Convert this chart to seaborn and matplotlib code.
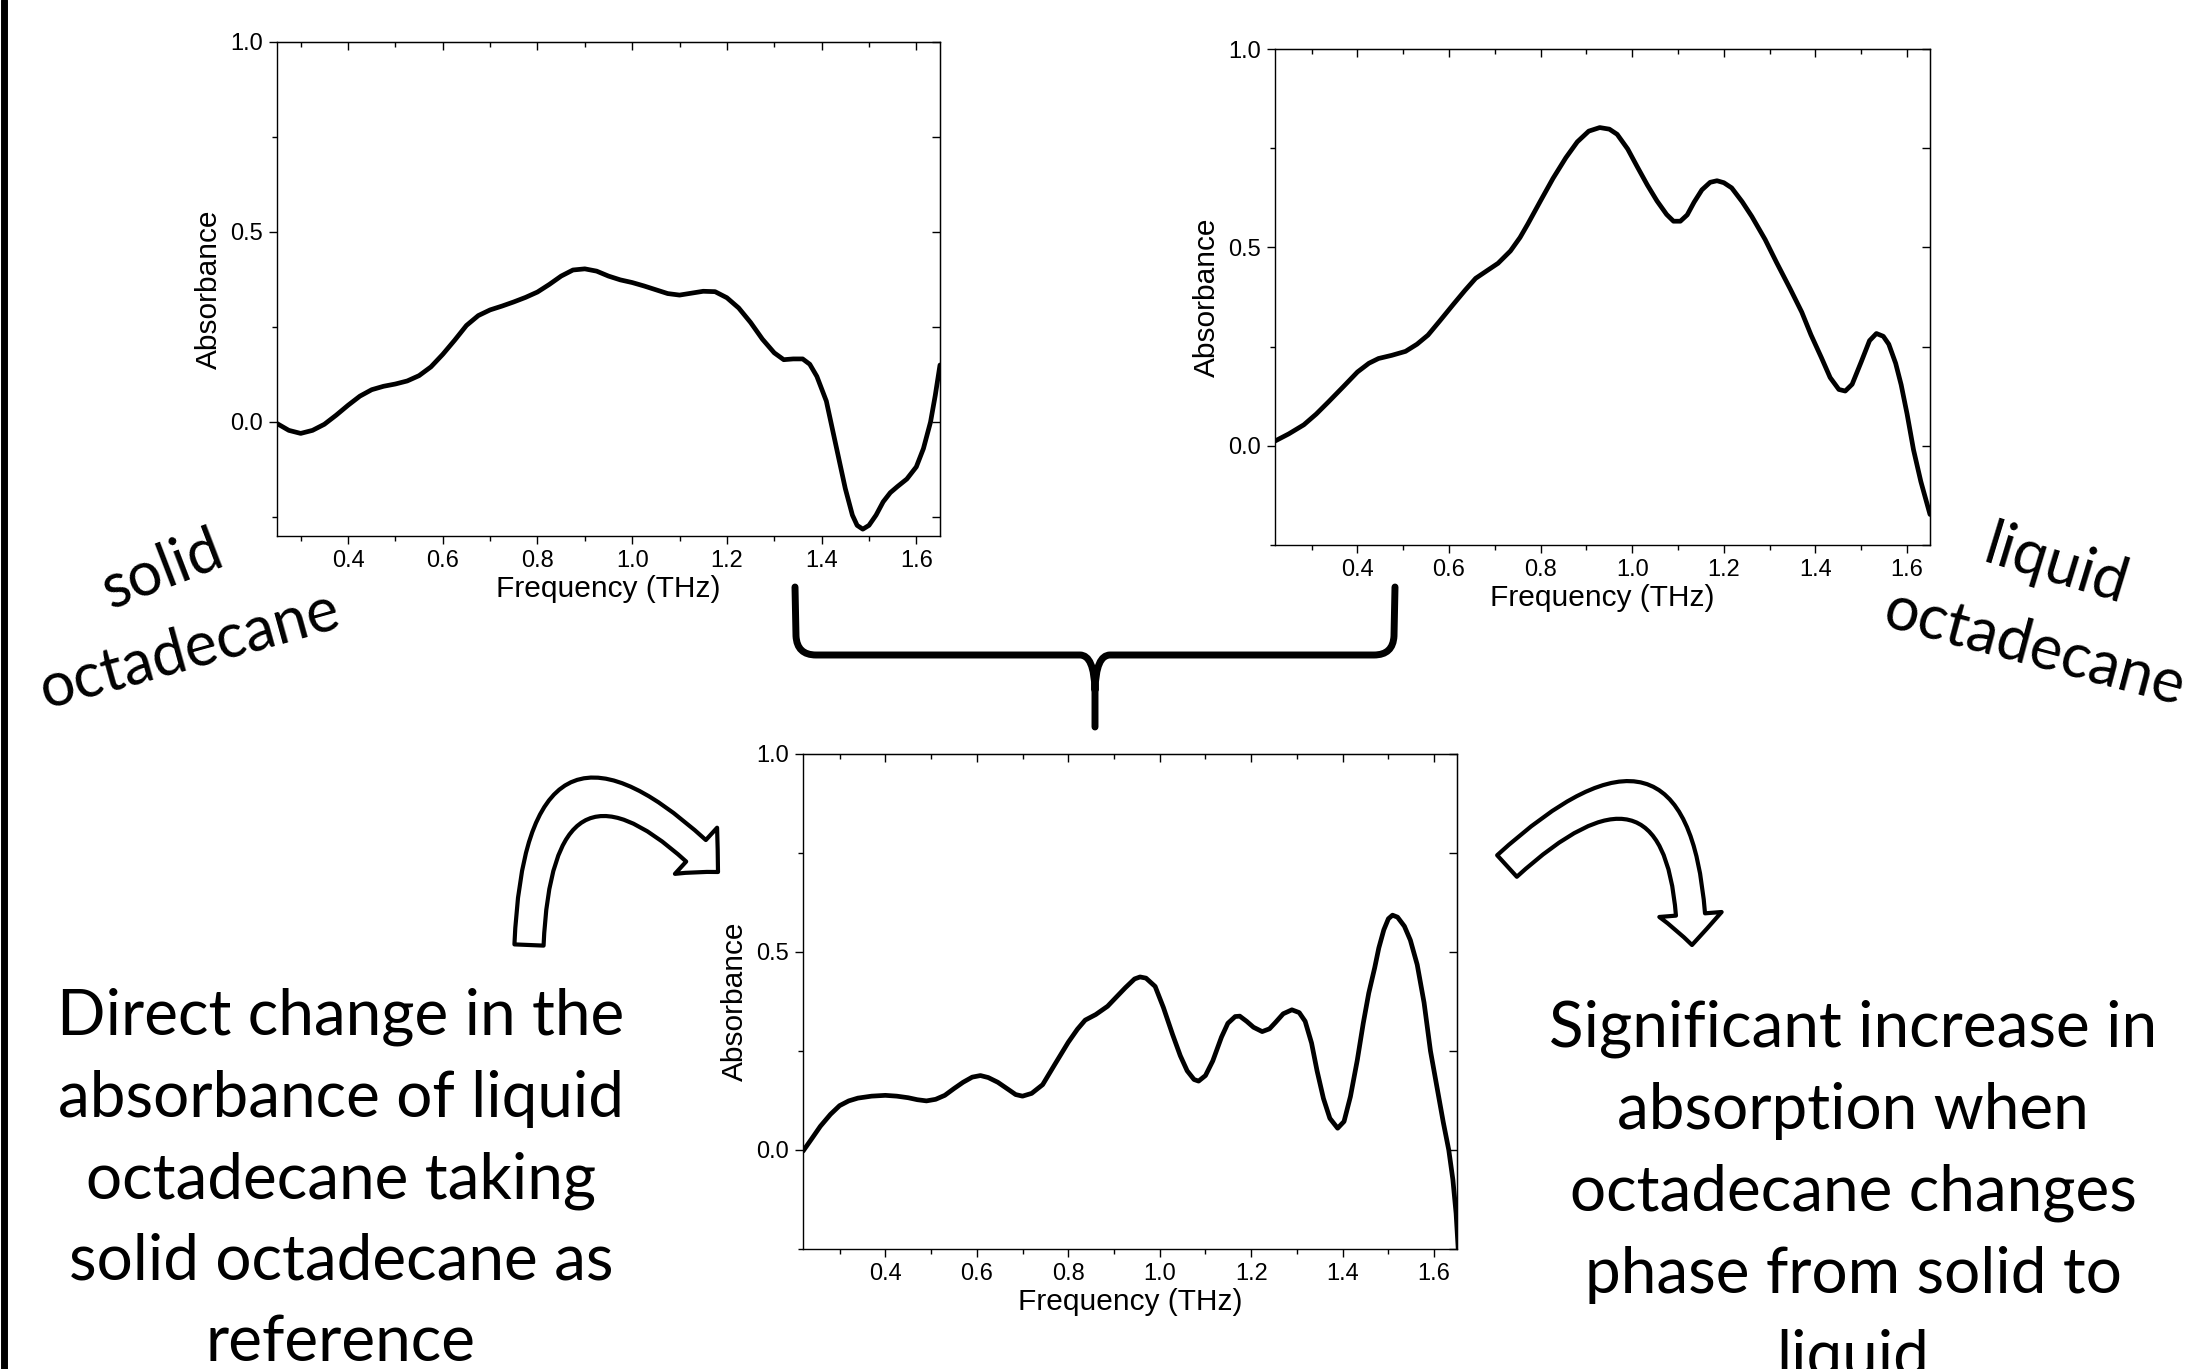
import matplotlib
matplotlib.use("Agg")
import matplotlib.pyplot as plt
from matplotlib.patches import FancyArrowPatch, PathPatch
from matplotlib.path import Path
from matplotlib.lines import Line2D
from matplotlib.ticker import MultipleLocator
import pandas as pd
import seaborn as sns

W, H = 2201, 1369

# solid octadecane absorbance (top left)
solid_freq = [0.25, 0.275, 0.30, 0.325, 0.35, 0.375, 0.40, 0.425, 0.45, 0.475,
              0.50, 0.525, 0.55, 0.575, 0.60, 0.625, 0.65, 0.675, 0.70, 0.725,
              0.75, 0.775, 0.80, 0.825, 0.85, 0.875, 0.90, 0.925, 0.95, 0.975,
              1.00, 1.025, 1.05, 1.075, 1.10, 1.125, 1.15, 1.175, 1.20, 1.225,
              1.25, 1.275, 1.30, 1.32, 1.34, 1.36, 1.375, 1.39, 1.41, 1.43,
              1.45, 1.465, 1.475, 1.487, 1.50, 1.515, 1.53, 1.545, 1.56, 1.58,
              1.60, 1.615, 1.63, 1.64, 1.65]
solid_abs = [-0.004, -0.022, -0.030, -0.022, -0.006, 0.018, 0.044, 0.068, 0.085, 0.094,
             0.100, 0.108, 0.122, 0.145, 0.178, 0.215, 0.254, 0.280, 0.295, 0.305,
             0.316, 0.328, 0.342, 0.362, 0.384, 0.400, 0.403, 0.397, 0.384, 0.374,
             0.367, 0.358, 0.348, 0.338, 0.334, 0.339, 0.344, 0.343, 0.327, 0.300,
             0.262, 0.218, 0.182, 0.164, 0.166, 0.166, 0.152, 0.120, 0.055, -0.060,
             -0.175, -0.245, -0.272, -0.282, -0.272, -0.245, -0.210, -0.186, -0.170, -0.150,
             -0.118, -0.070, 0.000, 0.070, 0.150]

# liquid octadecane absorbance (top right)
liquid_freq = [0.22, 0.25, 0.283, 0.31, 0.337, 0.37, 0.40, 0.425, 0.446, 0.475,
               0.505, 0.53, 0.554, 0.58, 0.609, 0.635, 0.658, 0.685, 0.707, 0.734,
               0.755, 0.772, 0.80, 0.827, 0.855, 0.88, 0.905, 0.929, 0.95, 0.967,
               0.99, 1.011, 1.033, 1.054, 1.075, 1.09, 1.105, 1.12, 1.135, 1.152,
               1.17, 1.185, 1.20, 1.217, 1.24, 1.261, 1.29, 1.315, 1.345, 1.37,
               1.39, 1.413, 1.432, 1.451, 1.465, 1.48, 1.50, 1.518, 1.533, 1.548,
               1.56, 1.575, 1.587, 1.60, 1.614, 1.63, 1.65]
liquid_abs = [0.012, 0.030, 0.053, 0.080, 0.111, 0.150, 0.186, 0.208, 0.220, 0.228,
              0.238, 0.256, 0.279, 0.315, 0.356, 0.392, 0.422, 0.443, 0.460, 0.491,
              0.525, 0.559, 0.618, 0.674, 0.726, 0.766, 0.793, 0.802, 0.798, 0.785,
              0.748, 0.703, 0.657, 0.617, 0.583, 0.566, 0.566, 0.582, 0.614, 0.645,
              0.664, 0.668, 0.663, 0.650, 0.615, 0.578, 0.520, 0.462, 0.395, 0.337,
              0.280, 0.222, 0.172, 0.142, 0.138, 0.155, 0.212, 0.265, 0.283, 0.276,
              0.256, 0.208, 0.154, 0.080, -0.010, -0.090, -0.173]

# liquid with solid as reference (bottom)
diff_freq = [0.22, 0.24, 0.258, 0.28, 0.30, 0.32, 0.34, 0.37, 0.40, 0.425,
             0.45, 0.47, 0.49, 0.51, 0.53, 0.55, 0.57, 0.59, 0.608, 0.625,
             0.646, 0.67, 0.685, 0.70, 0.72, 0.744, 0.77, 0.80, 0.82, 0.837,
             0.86, 0.886, 0.905, 0.925, 0.945, 0.957, 0.97, 0.99, 1.008, 1.028,
             1.045, 1.06, 1.075, 1.085, 1.10, 1.116, 1.135, 1.149, 1.165, 1.175,
             1.19, 1.205, 1.224, 1.24, 1.253, 1.27, 1.289, 1.305, 1.318, 1.332,
             1.344, 1.358, 1.372, 1.389, 1.403, 1.417, 1.432, 1.445, 1.457, 1.47,
             1.479, 1.49, 1.50, 1.509, 1.52, 1.535, 1.548, 1.563, 1.578, 1.592,
             1.606, 1.62, 1.632, 1.641, 1.648, 1.653]
diff_abs = [-0.003, 0.030, 0.060, 0.090, 0.112, 0.124, 0.131, 0.136, 0.138, 0.136,
            0.132, 0.127, 0.124, 0.128, 0.138, 0.155, 0.171, 0.184, 0.188, 0.183,
            0.171, 0.152, 0.140, 0.136, 0.143, 0.165, 0.215, 0.272, 0.305, 0.328,
            0.342, 0.363, 0.386, 0.410, 0.432, 0.437, 0.434, 0.413, 0.360, 0.292,
            0.238, 0.200, 0.178, 0.174, 0.188, 0.225, 0.285, 0.320, 0.337, 0.338,
            0.325, 0.310, 0.299, 0.306, 0.322, 0.344, 0.354, 0.347, 0.325, 0.270,
            0.200, 0.130, 0.080, 0.055, 0.072, 0.135, 0.227, 0.320, 0.396, 0.460,
            0.510, 0.556, 0.584, 0.593, 0.588, 0.565, 0.530, 0.468, 0.372, 0.250,
            0.160, 0.070, 0.000, -0.075, -0.160, -0.257]

left_note = ["Direct change in the", "absorbance of liquid", "octadecane taking",
             "solid octadecane as", "reference"]
right_note = ["Significant increase in", "absorption when", "octadecane changes",
              "phase from solid to", "liquid"]

sns.set_style("ticks", {"axes.edgecolor": "black", "xtick.color": "black",
                        "ytick.color": "black", "text.color": "black",
                        "axes.labelcolor": "black"})
plt.rcParams["font.family"] = ["Liberation Sans", "DejaVu Sans"]

fig = plt.figure(figsize=(W / 100, H / 100), dpi=100)


def fx(x):
    return x / W


def fy(y):
    return 1 - y / H


def panel(box, freq, absb, xlo, ylo):
    left, top, right, bottom = box
    ax = fig.add_axes([fx(left), fy(bottom), (right - left) / W, (bottom - top) / H])
    df = pd.DataFrame({"Frequency (THz)": freq, "Absorbance": absb})
    sns.lineplot(data=df, x="Frequency (THz)", y="Absorbance", ax=ax,
                 color="black", lw=3.4, sort=False)
    ax.set_xlim(xlo, 1.65)
    ax.set_ylim(ylo, 1.0)
    ax.xaxis.set_major_locator(MultipleLocator(0.2))
    ax.xaxis.set_minor_locator(MultipleLocator(0.1))
    ax.yaxis.set_major_locator(MultipleLocator(0.5))
    ax.yaxis.set_minor_locator(MultipleLocator(0.25))
    ax.tick_params(which="both", direction="out", top=False, right=False,
                   labelsize=17, width=1)
    ax.tick_params(which="major", length=6, pad=4)
    ax.tick_params(which="minor", length=3.5)
    ax.set_xlabel("Frequency (THz)", fontsize=21.5, labelpad=2)
    ax.set_ylabel("Absorbance", fontsize=21.5, labelpad=5)
    for s in ax.spines.values():
        s.set_linewidth(1)

    # mirrored ticks pointing inward on top and right
    sx = ax.secondary_xaxis("top")
    sx.xaxis.set_major_locator(MultipleLocator(0.2))
    sx.xaxis.set_minor_locator(MultipleLocator(0.1))
    sx.tick_params(which="both", direction="in", labeltop=False, width=1)
    sx.tick_params(which="major", length=6)
    sx.tick_params(which="minor", length=3.5)
    sy = ax.secondary_yaxis("right")
    sy.yaxis.set_major_locator(MultipleLocator(0.5))
    sy.yaxis.set_minor_locator(MultipleLocator(0.25))
    sy.tick_params(which="both", direction="in", labelright=False, width=1, length=6)
    return ax


panel((277, 42, 940, 536), solid_freq, solid_abs, 0.25, -0.30)
panel((1275, 49, 1930, 545), liquid_freq, liquid_abs, 0.22, -0.25)
panel((803, 754, 1457, 1249), diff_freq, diff_abs, 0.22, -0.25)

# left border
fig.add_artist(Line2D([fx(3.5), fx(3.5)], [0, 1], lw=5, color="black"))

# bracket joining the two top panels
M, L, C = Path.MOVETO, Path.LINETO, Path.CURVE3
pts = [(795, 587), (796, 636), (797, 655), (816, 655), (1080, 655), (1094, 655),
       (1095, 690), (1095, 727),
       (1395, 587), (1394, 636), (1393, 655), (1374, 655), (1110, 655), (1096, 655),
       (1095, 690)]
codes = [M, L, C, C, L, C, C, L, M, L, C, C, L, C, C]
bracket = Path([(fx(x), fy(y)) for x, y in pts], codes)
fig.add_artist(PathPatch(bracket, fill=False, lw=5, color="black",
                         transform=fig.transFigure, capstyle="round",
                         joinstyle="round"))

# hollow curved arrows
style = "simple,head_length=22,head_width=45,tail_width=21"
for a, b, rad in [((529, 945), (718, 872), -1.15),
                  ((1507, 866), (1692, 945), -1.1)]:
    fig.add_artist(FancyArrowPatch((fx(a[0]), fy(a[1])), (fx(b[0]), fy(b[1])),
                                   transform=fig.transFigure, arrowstyle=style,
                                   connectionstyle=f"arc3,rad={rad}",
                                   fc="white", ec="black", lw=3,
                                   shrinkA=0, shrinkB=0))

lato = ["Lato", "DejaVu Sans"]
big = dict(family=lato, fontsize=46, ha="center", va="baseline", color="black")
fig.text(fx(163), fy(570), "solid", rotation=21, va="center", ha="center",
         family=lato, fontsize=44)
fig.text(fx(189), fy(650), "octadecane", rotation=15.5, va="center", ha="center",
         family=lato, fontsize=44)
fig.text(fx(2056), fy(566), "liquid", rotation=-17, va="center", ha="center",
         family=lato, fontsize=44)
fig.text(fx(2034), fy(649), "octadecane", rotation=-15, va="center", ha="center",
         family=lato, fontsize=44)

for i, line in enumerate(left_note):
    fig.text(fx(341), fy(1035 + i * 81.5), line, **big)
for i, line in enumerate(right_note):
    fig.text(fx(1853), fy(1046 + i * 82.5), line, **big)

fig.savefig("out.png", dpi=100, facecolor="white")
